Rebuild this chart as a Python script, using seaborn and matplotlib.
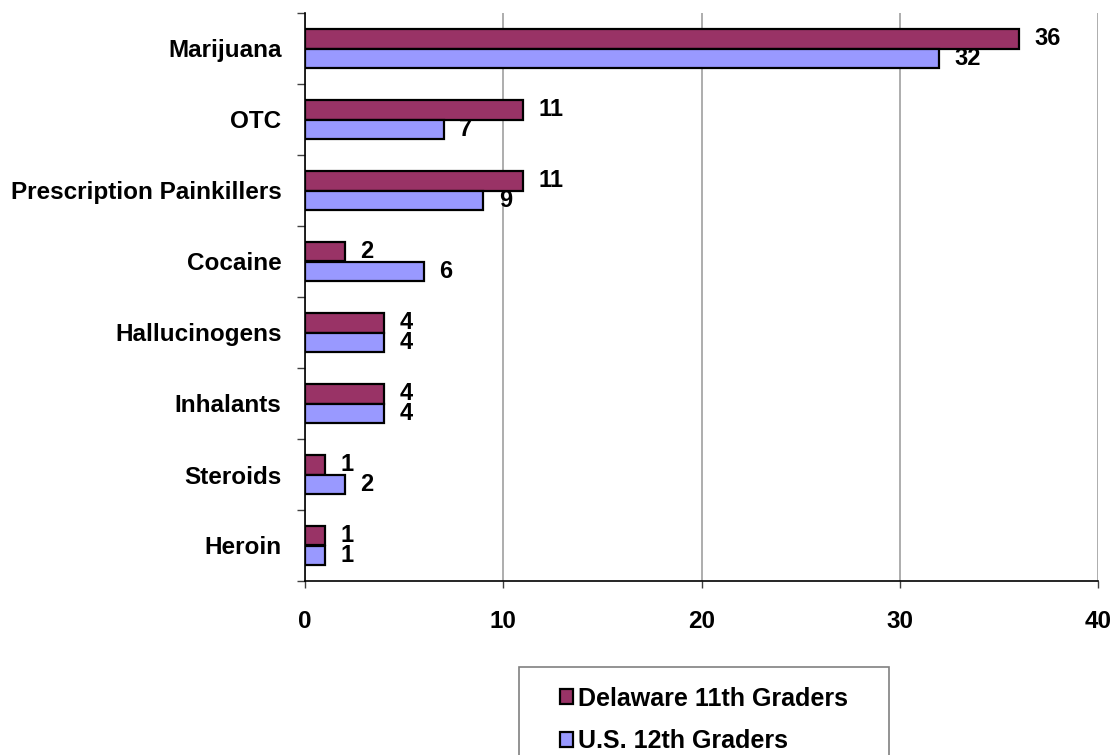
import numpy as np
import pandas as pd
import matplotlib
matplotlib.use("Agg")
import matplotlib.pyplot as plt
from matplotlib.patches import Patch, Rectangle
from matplotlib.ticker import FixedLocator
import seaborn as sns

categories = ["Marijuana", "OTC", "Prescription Painkillers", "Cocaine",
              "Hallucinogens", "Inhalants", "Steroids", "Heroin"]
delaware_11th = [36, 11, 11, 2, 4, 4, 1, 1]
us_12th = [32, 7, 9, 6, 4, 4, 2, 1]
series_names = ["Delaware 11th Graders", "U.S. 12th Graders"]
x_ticks = [0, 10, 20, 30, 40]

colors = ["#993366", "#9999FF"]

df = pd.DataFrame({
    "category": categories * 2,
    "value": delaware_11th + us_12th,
    "series": [series_names[0]] * len(categories) + [series_names[1]] * len(categories),
})

sns.set_theme(style="white")
plt.rcParams["font.family"] = ["Liberation Sans", "DejaVu Sans"]
plt.rcParams["font.weight"] = "bold"
plt.rcParams["text.color"] = "black"
plt.rcParams["xtick.color"] = "black"
plt.rcParams["ytick.color"] = "black"
plt.rcParams["axes.labelcolor"] = "black"

FS_CAT = 17.5
FS_TICK = 17.5
FS_VAL = 17
FS_LEG = 18

fig = plt.figure(figsize=(11.15, 7.55), dpi=100)
ax = fig.add_axes([305 / 1115, 1 - 581 / 755, (1098 - 305) / 1115, (581 - 13) / 755])

sns.barplot(data=df, y="category", x="value", hue="series", order=categories,
            hue_order=series_names, palette=colors, saturation=1, orient="h",
            width=0.55, edgecolor="black", linewidth=1.6, ax=ax, legend=False,
            errorbar=None)

for cont in ax.containers:
    ax.bar_label(cont, padding=11, fontsize=FS_VAL, fontweight="bold", color="black")

ax.set_xlim(0, 40)
ax.set_ylim(len(categories) - 0.5, -0.5)
ax.set_xticks(x_ticks)
ax.set_xticklabels([str(t) for t in x_ticks], fontsize=FS_TICK, fontweight="bold")
ax.set_yticks(range(len(categories)))
ax.set_yticklabels(categories, fontsize=FS_CAT, fontweight="bold")
ax.yaxis.set_minor_locator(FixedLocator(np.arange(-0.5, len(categories), 1.0)))
ax.tick_params(axis="y", which="major", length=0, pad=17)
ax.tick_params(axis="y", which="minor", length=6, width=1, color="#404040", left=True)
ax.tick_params(axis="x", which="major", length=5, width=1, color="#404040", pad=16, bottom=True)
ax.set_xlabel("")
ax.set_ylabel("")

ax.grid(False)
ax.xaxis.grid(True, color="#A0A0A0", linewidth=1.2)
ax.set_axisbelow(True)
for s in ["top", "right"]:
    ax.spines[s].set_visible(False)
ax.spines["left"].set_color("black")
ax.spines["bottom"].set_color("black")
ax.spines["left"].set_linewidth(1.2)
ax.spines["bottom"].set_linewidth(1.2)

# legend box
W, H = 1115, 755
fig.patches.append(Rectangle((519 / W, -0.05), (889 - 519) / W, 0.05 + (1 - 667 / H),
                             transform=fig.transFigure, fill=False,
                             edgecolor="#808080", linewidth=1.2))
handles = [Patch(facecolor=c, edgecolor="black", linewidth=1.6) for c in colors]
fig.legend(handles, series_names, loc="upper left",
           bbox_to_anchor=(547 / W, 1 - 674 / H), frameon=False,
           prop={"weight": "bold", "size": FS_LEG},
           handlelength=0.55, handleheight=0.55, handletextpad=0.2,
           labelspacing=0.75, borderpad=0)

fig.savefig("out.png", dpi=100)
